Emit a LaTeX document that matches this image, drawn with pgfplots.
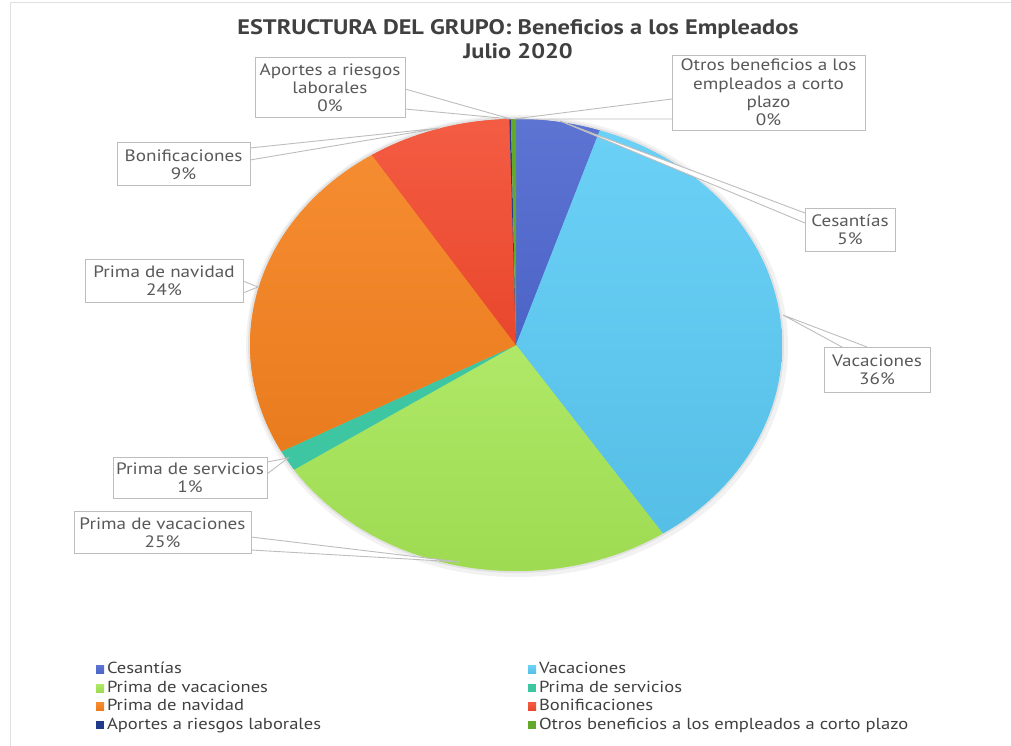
\documentclass[border=0pt]{standalone}
\usepackage{pgfplots}
\pgfplotsset{compat=1.18}
\usepackage{fontspec}
\setmainfont{PT Sans}[FakeStretch=1.16]
\definecolor{cCes}{HTML}{4F68CF}
\definecolor{cVac}{HTML}{5BCBF5}
\definecolor{cPVa}{HTML}{A6E656}
\definecolor{cPSe}{HTML}{3EC6A2}
\definecolor{cPNa}{HTML}{F5821F}
\definecolor{cBon}{HTML}{F24A2E}
\definecolor{cApo}{HTML}{1F3A8A}
\definecolor{cOtr}{HTML}{62A82A}
\definecolor{cLine}{HTML}{BDBDBD}
\definecolor{cTxt}{HTML}{595959}
\definecolor{cTit}{HTML}{404040}
% slice values (percent)
\def\vCes{5.1}
\def\vVac{35.6}
\def\vPVa{25.0}
\def\vPSe{1.5}
\def\vPNa{23.7}
\def\vBon{8.7}
\def\vApo{0.1}
\def\vOtr{0.3}
\begin{document}
\begin{tikzpicture}
\pgfmathsetmacro\aA{0}
\pgfmathsetmacro\aB{\aA+3.6*\vCes}
\pgfmathsetmacro\aC{\aB+3.6*\vVac}
\pgfmathsetmacro\aD{\aC+3.6*\vPVa}
\pgfmathsetmacro\aE{\aD+3.6*\vPSe}
\pgfmathsetmacro\aF{\aE+3.6*\vPNa}
\pgfmathsetmacro\aG{\aF+3.6*\vBon}
\pgfmathsetmacro\aH{\aG+3.6*\vApo}
\pgfmathsetmacro\aI{\aH+3.6*\vOtr}
\path[use as bounding box] (0,0) rectangle (1011pt,746pt);
\begin{axis}[at={(0,0)}, anchor=south west,
  width=1011pt, height=746pt, scale only axis,
  xmin=0, xmax=1011, ymin=0, ymax=746, y dir=reverse,
  hide axis, clip=false,
  legend columns=2,
  legend cell align=left,
  legend image code/.code={\fill[#1] (0pt,-4pt) rectangle (8pt,4pt);},
  legend style={draw=none, fill=none, inner sep=0pt, outer sep=0pt,
    at={(axis cs:96,660)}, anchor=north west,
    font=\fontsize{16}{17}\selectfont, text=cTit,
    row sep=0pt,
    nodes={inner xsep=3pt, inner ysep=1.35pt, text height=12pt, text depth=4pt}},
  slice/.style={draw=none, samples=80},
]
% soft shadow
\fill[black, opacity=0.05] (axis cs:517,346) ellipse [x radius=271pt, y radius=231pt];
\fill[black, opacity=0.07] (axis cs:516,345) ellipse [x radius=268pt, y radius=228pt];

\addplot[slice, fill=cCes, top color=cCes!92!white, bottom color=cCes!96!black, domain=\aA:\aB] ({516+266*sin(x)},{345-226*cos(x)}) -- (axis cs:516,345) -- cycle;
\addlegendentry{\makebox[418pt][l]{Cesantías}}
\addplot[slice, fill=cVac, top color=cVac!90!white, bottom color=cVac!94!black, domain=\aB:\aC] ({516+266*sin(x)},{345-226*cos(x)}) -- (axis cs:516,345) -- cycle;
\addlegendentry{Vacaciones}
\addplot[slice, fill=cPVa, top color=cPVa!90!white, bottom color=cPVa!95!black, domain=\aC:\aD] ({516+266*sin(x)},{345-226*cos(x)}) -- (axis cs:516,345) -- cycle;
\addlegendentry{\makebox[418pt][l]{Prima de vacaciones}}
\addplot[slice, fill=cPSe, domain=\aD:\aE] ({516+266*sin(x)},{345-226*cos(x)}) -- (axis cs:516,345) -- cycle;
\addlegendentry{Prima de servicios}
\addplot[slice, fill=cPNa, top color=cPNa!92!white, bottom color=cPNa!95!black, domain=\aE:\aF] ({516+266*sin(x)},{345-226*cos(x)}) -- (axis cs:516,345) -- cycle;
\addlegendentry{\makebox[418pt][l]{Prima de navidad}}
\addplot[slice, fill=cBon, top color=cBon!90!white, bottom color=cBon!96!black, domain=\aF:\aG] ({516+266*sin(x)},{345-226*cos(x)}) -- (axis cs:516,345) -- cycle;
\addlegendentry{Bonificaciones}
\addplot[slice, fill=cApo, domain=\aG:\aH] ({516+266*sin(x)},{345-226*cos(x)}) -- (axis cs:516,345) -- cycle;
\addlegendentry{\makebox[418pt][l]{Aportes a riesgos laborales}}
\addplot[slice, fill=cOtr, domain=\aH:\aI] ({516+266*sin(x)},{345-226*cos(x)}) -- (axis cs:516,345) -- cycle;
\addlegendentry{Otros beneficios a los empleados a corto plazo}

% frame lines
\draw[black!12, line width=1pt] (axis cs:10,746) -- (axis cs:10,3) -- (axis cs:1011,3);

% title
\node[font=\fontsize{21}{23.5}\selectfont\bfseries, text=cTit, align=center] at (axis cs:518,39) {ESTRUCTURA DEL GRUPO: Beneficios a los Empleados\\Julio 2020};

\tikzset{cw/.style={draw=cLine, fill=white, line width=0.9pt, line join=miter},
         ct/.style={font=\fontsize{16.5}{18.2}\selectfont, text=cTxt, align=center, inner sep=0pt}}
% wedges
\filldraw[cw] (axis cs:405,89) -- (axis cs:511,119) -- (axis cs:405,109);
\filldraw[cw] (axis cs:672,99) -- (axis cs:514,119) -- (axis cs:672,119);
\filldraw[cw] (axis cs:250,148) -- (axis cs:440,128) -- (axis cs:250,160);
\filldraw[cw] (axis cs:805,213) -- (axis cs:560,121) -- (axis cs:805,223);
\filldraw[cw] (axis cs:842,347) -- (axis cs:783,315) -- (axis cs:867,347);
\filldraw[cw] (axis cs:243,281) -- (axis cs:258,287) -- (axis cs:243,293);
\filldraw[cw] (axis cs:267,462) -- (axis cs:288,458) -- (axis cs:267,474);
\filldraw[cw] (axis cs:251,537) -- (axis cs:460,562) -- (axis cs:251,550);
% boxes
\filldraw[cw] (axis cs:255,57) rectangle (axis cs:405,117);
\node[ct] at (axis cs:330,88) {Aportes a riesgos\\laborales\\0\%};
\filldraw[cw] (axis cs:672,55) rectangle (axis cs:865,130);
\node[ct] at (axis cs:768.5,92.5) {Otros beneficios a los\\empleados a corto\\plazo\\0\%};
\filldraw[cw] (axis cs:117,142) rectangle (axis cs:250,185);
\node[ct] at (axis cs:183.5,164.5) {Bonificaciones\\9\%};
\filldraw[cw] (axis cs:805,208) rectangle (axis cs:895,251);
\node[ct] at (axis cs:850,230) {Cesantías\\5\%};
\filldraw[cw] (axis cs:824,347) rectangle (axis cs:930,392);
\node[ct] at (axis cs:877,370) {Vacaciones\\36\%};
\filldraw[cw] (axis cs:85,259) rectangle (axis cs:243,302);
\node[ct] at (axis cs:164,281) {Prima de navidad\\24\%};
\filldraw[cw] (axis cs:113,457) rectangle (axis cs:267,498);
\node[ct] at (axis cs:190,478) {Prima de servicios\\1\%};
\filldraw[cw] (axis cs:74,511) rectangle (axis cs:251,553);
\node[ct] at (axis cs:162.5,532.5) {Prima de vacaciones\\25\%};
\end{axis}
\end{tikzpicture}
\end{document}
